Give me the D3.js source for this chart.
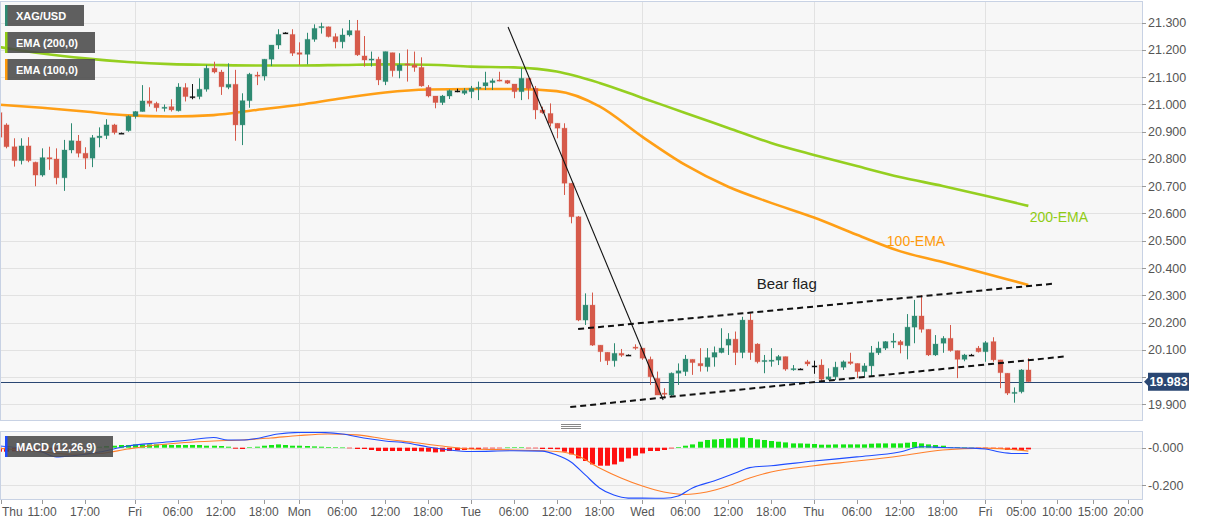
<!DOCTYPE html>
<html><head><meta charset="utf-8">
<script src="https://cdn.jsdelivr.net/npm/d3@7"></script>
<style>
body{margin:0;background:#fff;}
svg{display:block;font-family:"Liberation Sans",Arial,sans-serif;}
</style>
</head><body>
<svg id="chart" width="1207" height="526"></svg>
<script>
// ---------- DATA ----------
const firstIndex = -6; // candle index of first candle (Thu 05:00); index 0 = Thu 11:00
const opens = [20.97,20.925,20.845,20.794,20.848,20.788,20.741,20.805,20.80,20.731,20.833,20.866,20.821,20.803,20.878,20.886,20.925,20.895,20.904,20.957,20.974,21.013,21.004,20.987,20.992,20.977,21.062,21.029,21.029,21.056,21.133,21.119,21.063,21.074,20.925,21.014,21.108,21.104,21.166,21.218,21.263,21.257,21.19,21.184,21.239,21.284,21.285,21.249,21.23,21.255,21.271,21.178,21.163,21.166,21.084,21.19,21.124,21.149,21.145,21.136,21.063,21.031,21.007,21.031,21.05,21.041,21.047,21.062,21.068,21.08,21.09,21.088,21.075,21.047,21.096,21.059,20.98,20.967,20.931,20.913,20.711,20.588,20.209,20.264,20.117,20.091,20.06,20.087,20.081,20.11,20.106,20.065,19.995,19.941,19.934,20.014,20.02,20.065,20.05,20.038,20.073,20.09,20.117,20.139,20.09,20.209,20.121,20.058,20.06,20.062,20.075,20.028,20.03,20.056,20.041,20.044,19.992,20.001,20.036,20.056,20.05,20.02,20.041,20.089,20.106,20.128,20.13,20.115,20.183,20.224,20.175,20.081,20.124,20.142,20.097,20.065,20.081,20.106,20.093,20.13,20.063,20.014,19.941,19.946,20.026];
const highs = [20.99,20.931,20.876,20.876,20.88,20.79,20.839,20.845,20.839,20.87,20.931,20.888,20.843,20.888,20.916,20.946,20.929,20.897,20.96,20.976,21.071,21.063,21.01,21.0,21.019,21.078,21.078,21.075,21.096,21.145,21.157,21.127,21.151,21.127,21.041,21.116,21.12,21.167,21.218,21.276,21.265,21.276,21.228,21.263,21.294,21.30,21.286,21.261,21.279,21.31,21.31,21.251,21.194,21.175,21.194,21.19,21.188,21.202,21.194,21.173,21.071,21.031,21.035,21.055,21.058,21.06,21.068,21.084,21.12,21.095,21.12,21.09,21.075,21.133,21.096,21.068,20.992,21.004,20.931,20.931,20.711,20.591,20.307,20.31,20.117,20.091,20.124,20.103,20.083,20.12,20.106,20.075,20.02,19.959,20.017,20.05,20.081,20.065,20.106,20.106,20.112,20.179,20.161,20.167,20.221,20.234,20.124,20.081,20.106,20.081,20.075,20.044,20.032,20.063,20.06,20.065,20.032,20.056,20.061,20.089,20.05,20.051,20.114,20.13,20.132,20.161,20.136,20.231,20.283,20.301,20.175,20.154,20.15,20.191,20.097,20.085,20.085,20.114,20.132,20.146,20.063,20.014,19.962,20.029,20.069];
const lows = [20.87,20.839,20.772,20.78,20.788,20.70,20.735,20.76,20.707,20.683,20.821,20.806,20.763,20.77,20.843,20.873,20.89,20.893,20.90,20.948,20.974,20.992,20.974,20.974,20.974,20.974,21.011,21.019,21.019,21.047,21.114,21.035,21.056,20.867,20.851,20.988,21.071,21.088,21.141,21.203,21.26,21.178,21.145,21.147,21.23,21.26,21.246,21.206,21.206,21.249,21.178,21.139,21.139,21.071,21.071,21.102,21.096,21.084,21.12,21.065,21.026,20.986,20.998,21.02,21.045,21.035,21.023,21.016,21.053,21.053,21.085,21.075,21.023,21.016,21.019,20.946,20.966,20.919,20.876,20.668,20.564,20.205,20.191,20.114,20.056,20.044,20.038,20.074,20.079,20.10,20.063,19.971,19.934,19.922,19.93,19.971,20.004,20.008,20.02,20.02,20.038,20.087,20.081,20.044,20.069,20.063,20.05,20.014,20.038,20.044,20.023,20.023,20.028,20.04,20.012,19.983,19.989,19.989,20.026,20.045,19.996,20.001,20.001,20.081,20.099,20.106,20.087,20.065,20.124,20.163,20.077,20.077,20.089,20.093,19.996,20.058,20.077,20.09,20.056,20.056,19.959,19.934,19.906,19.94,19.983];
const closes = [20.88,20.845,20.794,20.848,20.794,20.741,20.805,20.80,20.731,20.833,20.867,20.821,20.803,20.878,20.884,20.925,20.897,20.895,20.957,20.974,21.013,21.004,20.988,20.99,20.98,21.064,21.029,21.029,21.056,21.133,21.119,21.065,21.074,20.925,21.014,21.111,21.104,21.166,21.218,21.257,21.263,21.188,21.184,21.239,21.279,21.286,21.249,21.23,21.255,21.271,21.182,21.163,21.167,21.09,21.194,21.124,21.145,21.145,21.136,21.068,21.031,21.007,21.031,21.051,21.05,21.051,21.059,21.063,21.08,21.087,21.088,21.078,21.047,21.096,21.059,20.98,20.97,20.931,20.913,20.711,20.588,20.209,20.264,20.117,20.093,20.06,20.087,20.08,20.081,20.107,20.069,20.001,19.934,19.937,20.014,20.023,20.066,20.053,20.041,20.071,20.09,20.106,20.139,20.09,20.209,20.09,20.056,20.061,20.062,20.075,20.029,20.031,20.03,20.048,20.041,19.992,20.001,20.036,20.056,20.05,20.02,20.041,20.089,20.106,20.13,20.132,20.118,20.183,20.224,20.175,20.081,20.121,20.142,20.097,20.065,20.081,20.081,20.093,20.126,20.063,20.016,19.941,19.944,20.026,19.983];

const emaIdx = [-6,0,6,12,18,24,30,36,42,48,54,60,66,72,78,84,90,96,102,108,114,120,126,132,138];
const ema200 = [21.211,21.187,21.169,21.156,21.148,21.145,21.143,21.143,21.145,21.147,21.146,21.139,21.136,21.121,21.079,21.024,20.969,20.914,20.859,20.815,20.774,20.734,20.701,20.665,20.628];
const ema100 = [20.999,20.988,20.974,20.96,20.956,20.961,20.98,20.999,21.023,21.044,21.055,21.057,21.057,21.049,20.993,20.881,20.778,20.698,20.639,20.585,20.522,20.462,20.422,20.38,20.338];

const histogram = [-0.0213,-0.0213,-0.0197,-0.0186,-0.016,-0.016,-0.0133,-0.0106,-0.0106,-0.008,-0.0053,-0.0037,-0.0016,0.0027,
 0.0053,0.009,0.0106,0.0144,0.0144,0.0176,0.0176,0.0176,0.0176,0.0176,0.0144,0.0144,0.0144,0.0144,0.0144,0.0106,0.0106,0.009,0.0053,-0.0053,-0.0069,0.0027,0.0053,0.0106,0.0144,0.0176,0.0144,0.0106,0.0106,0.009,0.0069,0.0053,0.0037,0.0016,0.0011,-0.0027,
 -0.0069,-0.0069,-0.0122,-0.0176,-0.0176,-0.0176,-0.0176,-0.0176,-0.0176,-0.0197,-0.0213,-0.025,-0.0213,-0.0176,-0.0144,-0.0122,-0.0069,-0.0069,-0.0037,-0.0037,-0.0016,0.0011,0.0016,0.0016,-0.0011,-0.0027,-0.0069,-0.0069,-0.008,-0.0213,-0.0356,-0.0569,-0.0707,-0.0888,-0.0957,-0.0957,-0.0888,-0.0745,-0.0569,-0.0426,-0.0303,-0.0176,-0.0176,-0.0122,-0.0037,0.0037,0.0106,0.0176,
 0.0319,0.041,0.0441,0.0463,0.0495,0.0495,0.0548,0.0516,0.0441,0.041,0.0356,0.0319,0.0282,0.0229,0.0229,0.0213,0.0197,0.016,0.016,0.0176,0.0176,0.0176,0.0176,0.0176,0.0213,0.0229,0.0229,0.0229,0.0229,0.0266,0.0303,0.0229,0.0176,0.0144,0.0106,0.0037,0.0016,0.0011,0,-0.0011,-0.0016,-0.0037,-0.0069,-0.0122,-0.0122,-0.0122,-0.009];

const macdIdx = [-6,0,2,4,8,12,16,20,24,26,28,30,33,36,39,42,45,48,51,54,57,60,66,70,72,74,76,78,80,82,84,87,89,91,94,97,99,102,108,114,120,123,126,130,132,134,136,138];
const macdLine = [0.009,-0.023,-0.049,-0.044,-0.023,0.009,0.025,0.038,0.054,0.041,0.041,0.049,0.073,0.081,0.081,0.073,0.052,0.036,0.025,0.004,-0.012,-0.02,-0.016,-0.018,-0.039,-0.076,-0.145,-0.214,-0.252,-0.268,-0.268,-0.269,-0.257,-0.214,-0.177,-0.135,-0.106,-0.096,-0.071,-0.049,-0.023,0.005,0.001,-0.002,-0.007,-0.023,-0.031,-0.031];
const sigIdx = [-6,0,4,8,12,16,20,24,28,32,36,40,44,48,52,56,60,66,72,75,78,81,84,87,90,93,96,99,102,108,114,120,126,132,138];
const signalLine = [-0.003,-0.023,-0.035,-0.031,-0.007,0.014,0.028,0.036,0.041,0.052,0.065,0.073,0.068,0.046,0.028,0.009,-0.007,-0.012,-0.02,-0.044,-0.108,-0.161,-0.204,-0.236,-0.249,-0.236,-0.204,-0.161,-0.129,-0.096,-0.071,-0.044,-0.012,-0.002,-0.018];

const priceTicks = [19.9,20.0,20.1,20.2,20.3,20.4,20.5,20.6,20.7,20.8,20.9,21.0,21.1,21.2,21.3];
const macdTicks = [0, -0.2];
const timeTickIdx = [0,6,13,19,25,31,36,42,48,54,60,66,72,78,84,90,96,102,108,114,120,126,132,137,142,147,152];
const timeTickLabels = ["11:00","17:00","Fri","06:00","12:00","18:00","Mon","06:00","12:00","18:00","Tue","06:00","12:00","18:00","Wed","06:00","12:00","18:00","Thu","06:00","12:00","18:00","Fri","05:00","10:00","15:00","20:00"];
const dayIdx = [13,36,60,84,108,132];
const lastPrice = 19.983;

const downTrend = [[65.2,21.284],[86.9,19.916]];
const flagUpper = [[75.0,20.176],[141.3,20.342]];
const flagLower = [[73.9,19.89],[143.3,20.076]];

// ---------- LAYOUT ----------
const svg = d3.select("#chart");
const plotL = 0, plotR = 1142;
const mainTop = 2, mainBot = 421;
const macdTop = 432, macdBot = 500;

const x = d3.scaleLinear().domain([0,152]).range([42.1,1128.4]);
const y = d3.scaleLinear().domain([19.9,21.3]).range([404.3,22.7]);
const ym = d3.scaleLinear().domain([-0.2,0]).range([485.3,447.7]);

const candles = opens.map((o,k)=>({i:k+firstIndex,o,h:highs[k],l:lows[k],c:closes[k]}));

const defs = svg.append("defs");
defs.append("clipPath").attr("id","clipMain").append("rect").attr("x",plotL).attr("y",mainTop).attr("width",plotR-plotL).attr("height",mainBot-mainTop);
defs.append("clipPath").attr("id","clipMacd").append("rect").attr("x",plotL).attr("y",macdTop).attr("width",plotR-plotL).attr("height",macdBot-macdTop);

// backgrounds
svg.append("rect").attr("x",plotL).attr("y",mainTop).attr("width",plotR-plotL).attr("height",mainBot-mainTop).attr("fill","#f7f7f7");
svg.append("rect").attr("x",plotL).attr("y",macdTop).attr("width",plotR-plotL).attr("height",macdBot-macdTop).attr("fill","#f7f7f7");

const gridCol = "#e2e2e2";
svg.append("g").selectAll("line").data(priceTicks).join("line")
  .attr("x1",plotL).attr("x2",plotR).attr("y1",d=>Math.round(y(d))+0.5).attr("y2",d=>Math.round(y(d))+0.5)
  .attr("stroke",gridCol);
svg.append("g").selectAll("line").data(dayIdx).join("line")
  .attr("x1",d=>Math.round(x(d))+0.5).attr("x2",d=>Math.round(x(d))+0.5).attr("y1",mainTop).attr("y2",mainBot)
  .attr("stroke",gridCol);
svg.append("g").selectAll("line").data(macdTicks).join("line")
  .attr("x1",plotL).attr("x2",plotR).attr("y1",d=>Math.round(ym(d))+0.5).attr("y2",d=>Math.round(ym(d))+0.5)
  .attr("stroke",gridCol);
svg.append("g").selectAll("line").data(dayIdx).join("line")
  .attr("x1",d=>Math.round(x(d))+0.5).attr("x2",d=>Math.round(x(d))+0.5).attr("y1",macdTop).attr("y2",macdBot)
  .attr("stroke",gridCol);

// ---------- MAIN PANEL ----------
const gMain = svg.append("g").attr("clip-path","url(#clipMain)");

const emaLine = d3.line().x(d=>x(d[0])).y(d=>y(d[1])).curve(d3.curveMonotoneX);
gMain.append("path").datum(emaIdx.map((i,k)=>[i,ema200[k]])).attr("d",emaLine)
  .attr("fill","none").attr("stroke","#8fcc14").attr("stroke-width",2.6).attr("stroke-opacity",0.95);
gMain.append("path").datum(emaIdx.map((i,k)=>[i,ema100[k]])).attr("d",emaLine)
  .attr("fill","none").attr("stroke","#ff9a0a").attr("stroke-width",2.6).attr("stroke-opacity",0.95);

gMain.append("line").attr("x1",plotL).attr("x2",plotR)
  .attr("y1",Math.round(y(lastPrice))+0.5).attr("y2",Math.round(y(lastPrice))+0.5)
  .attr("stroke","#2a4773").attr("stroke-width",1);

const upCol = "#2e8a72", dnCol = "#d65a4a";
const colorOf = d => d.c>d.o ? upCol : (d.c<d.o ? dnCol : "#111");
const cg = gMain.append("g").selectAll("g").data(candles).join("g");
cg.append("line")
  .attr("x1",d=>Math.round(x(d.i))+0.5).attr("x2",d=>Math.round(x(d.i))+0.5)
  .attr("y1",d=>y(d.h)).attr("y2",d=>y(d.l))
  .attr("stroke",colorOf).attr("stroke-width",1);
cg.append("rect")
  .attr("x",d=>Math.round(x(d.i))-2).attr("width",5)
  .attr("y",d=>y(Math.max(d.o,d.c)))
  .attr("height",d=>Math.max(1.2,Math.abs(y(d.o)-y(d.c))))
  .attr("fill",colorOf)
  .attr("stroke",colorOf).attr("stroke-opacity",0.3).attr("stroke-width",1);

const tl = d3.line().x(d=>x(d[0])).y(d=>y(d[1]));
gMain.append("path").datum(downTrend).attr("d",tl).attr("stroke","#111").attr("stroke-width",1.1).attr("fill","none");
gMain.append("path").datum(flagUpper).attr("d",tl).attr("stroke","#111").attr("stroke-width",2).attr("stroke-dasharray","6,4").attr("fill","none");
gMain.append("path").datum(flagLower).attr("d",tl).attr("stroke","#111").attr("stroke-width",2).attr("stroke-dasharray","6,4").attr("fill","none");

svg.append("text").attr("x",x(100.0)).attr("y",y(20.323)).text("Bear flag")
  .attr("font-size",15).attr("fill","#222");
svg.append("text").attr("x",x(118.2)).attr("y",y(20.48)).text("100-EMA")
  .attr("font-size",14).attr("fill","#ff9a0a");
svg.append("text").attr("x",x(138.2)).attr("y",y(20.569)).text("200-EMA")
  .attr("font-size",14).attr("fill","#8fcc14");

// ---------- MACD PANEL ----------
const gMacd = svg.append("g").attr("clip-path","url(#clipMacd)");
gMacd.append("g").selectAll("rect").data(histogram.map((v,k)=>({i:k+firstIndex,v}))).join("rect")
  .attr("x",d=>Math.round(x(d.i))-2).attr("width",5)
  .attr("y",d=>d.v>=0?ym(d.v):ym(0))
  .attr("height",d=>Math.max(0.6,Math.abs(ym(d.v)-ym(0))))
  .attr("fill",d=>d.v>=0?"#14e614":"#ff1010");
const ml = d3.line().x(d=>x(d[0])).y(d=>ym(d[1])).curve(d3.curveMonotoneX);
gMacd.append("path").datum(sigIdx.map((i,k)=>[i,signalLine[k]])).attr("d",ml)
  .attr("fill","none").attr("stroke","#ff7f2a").attr("stroke-width",1.1);
gMacd.append("path").datum(macdIdx.map((i,k)=>[i,macdLine[k]])).attr("d",ml)
  .attr("fill","none").attr("stroke","#1f4cff").attr("stroke-width",1.1);

// ---------- BORDERS ----------
const borderCol = "#c8d2e4";
svg.append("rect").attr("x",plotL+0.5).attr("y",mainTop-0.5).attr("width",plotR-plotL).attr("height",mainBot-mainTop)
  .attr("fill","none").attr("stroke",borderCol);
svg.append("rect").attr("x",plotL+0.5).attr("y",macdTop-0.5).attr("width",plotR-plotL).attr("height",macdBot-macdTop)
  .attr("fill","none").attr("stroke",borderCol);

[424.5,426.5,428.5].forEach(yy=>{
  svg.append("line").attr("x1",561).attr("x2",581).attr("y1",yy).attr("y2",yy).attr("stroke","#888");
});

// ---------- AXES ----------
const axisTextCol = "#555";
const pa = svg.append("g");
pa.selectAll("line").data(priceTicks).join("line")
  .attr("x1",plotR).attr("x2",plotR+4).attr("y1",d=>Math.round(y(d))+0.5).attr("y2",d=>Math.round(y(d))+0.5)
  .attr("stroke","#999");
pa.selectAll("text").data(priceTicks).join("text")
  .attr("x",plotR+6).attr("y",d=>y(d)+4.5).text(d=>d3.format(".3f")(d))
  .attr("font-size",12.5).attr("fill",axisTextCol);
const ma = svg.append("g");
ma.selectAll("line").data(macdTicks).join("line")
  .attr("x1",plotR).attr("x2",plotR+4).attr("y1",d=>Math.round(ym(d))+0.5).attr("y2",d=>Math.round(ym(d))+0.5)
  .attr("stroke","#999");
ma.selectAll("text").data(macdTicks).join("text")
  .attr("x",plotR+6).attr("y",d=>ym(d)+4.5).text(d=>"-"+d3.format(".3f")(Math.abs(d)))
  .attr("font-size",12.5).attr("fill",axisTextCol);

const ty = y(lastPrice);
svg.append("path")
  .attr("d",`M${plotR+2},${ty} L${plotR+6},${ty-4} L${plotR+6},${ty-9} L${plotR+47},${ty-9} L${plotR+47},${ty+9} L${plotR+6},${ty+9} L${plotR+6},${ty+4} Z`)
  .attr("fill","#2a4773");
svg.append("text").attr("x",plotR+26.5).attr("y",ty+4.5).attr("text-anchor","middle")
  .text(d3.format(".3f")(lastPrice)).attr("font-size",12.5).attr("font-weight","bold").attr("fill","#fff");

const ta = svg.append("g");
ta.selectAll("line").data(timeTickIdx).join("line")
  .attr("x1",d=>Math.round(x(d))+0.5).attr("x2",d=>Math.round(x(d))+0.5).attr("y1",macdBot).attr("y2",macdBot+4)
  .attr("stroke","#999");
ta.selectAll("text").data(timeTickIdx).join("text")
  .attr("x",d=>x(d)).attr("y",516).attr("text-anchor","middle")
  .text((d,k)=>timeTickLabels[k]).attr("font-size",12).attr("fill",axisTextCol);
ta.append("line").attr("x1",1.5).attr("x2",1.5).attr("y1",macdBot).attr("y2",macdBot+4).attr("stroke","#999");
ta.append("text").attr("x",2).attr("y",516).text("Thu").attr("font-size",12).attr("fill",axisTextCol);

// ---------- LEGEND TAGS ----------
function tag(yTop, label, col, width){
  const g = svg.append("g");
  g.append("rect").attr("x",5).attr("y",yTop).attr("width",width).attr("height",21).attr("fill","#4a4a4a").attr("fill-opacity",0.88);
  g.append("rect").attr("x",5).attr("y",yTop).attr("width",2.5).attr("height",21).attr("fill",col);
  g.append("text").attr("x",16).attr("y",yTop+15).text(label).attr("font-size",11).attr("font-weight","bold").attr("fill","#fff");
}
tag(5,"XAG/USD","#2e8a72",79);
tag(32,"EMA (200,0)","#8fcc14",90);
tag(59,"EMA (100,0)","#ff9a0a",90);
tag(436,"MACD (12,26,9)","#1f4cff",108);
</script>
</body></html>
